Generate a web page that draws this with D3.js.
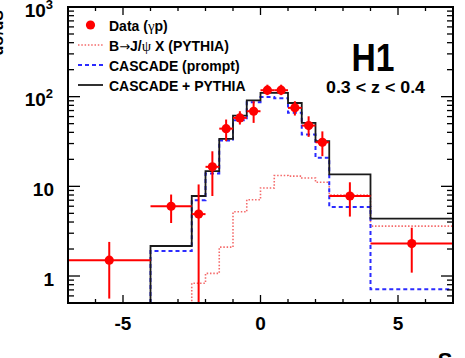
<!DOCTYPE html>
<html><head><meta charset="utf-8">
<script src="https://cdn.jsdelivr.net/npm/d3@7"></script>
<style>
html,body{margin:0;padding:0;background:#fff;}
svg{display:block;font-family:"Liberation Sans",Arial,sans-serif;font-weight:bold;}
</style></head>
<body><svg id="c" width="465" height="358"></svg>
<script>
// ---- data ----
const binEdges = [-4,-2.5,-2,-1.5,-1,-0.5,0,0.5,1,1.5,2,2.5,4,7];
const cascadePythia = [2.16,7.8,14.8,33.9,61.6,91,110,110,85,51,31.9,13.6,4.36];
const cascadePrompt = [1.9,7.0,13.9,32.4,54.6,86.6,99,96,66,37.8,20.8,5.9,0.71];
const pythiaB = [0.3,0.83,1.07,2.1,5.2,7.1,9.6,13.2,13.0,12.4,11.1,8.0,3.6];
const dataX   = [-5.5,-3.25,-2.25,-1.75,-1.25,-0.75,-0.25,0.25,0.75,1.25,1.75,2.25,3.25,5.5];
const dataXerr= [1.5,0.75,0.25,0.25,0.25,0.25,0.25,0.25,0.25,0.25,0.25,0.25,0.75,1.5];
const dataY   = [1.5,6.0,4.9,16.5,44,58,68.8,118,118,75,47.6,31,7.8,2.3];
const dataYhi = [2.4,8.1,10.5,24.6,55.6,68.8,89,136,136,89,60.4,41,11.1,3.46];
const dataYlo = [0.56,3.9,0.3,7.8,31.9,48.9,51,104,104,61.6,35.6,21.7,4.6,1.09];
const xMajor = [-5,0,5];
const xTickLabels = ["-5","0","5"];
const yMajor = [1,10,100,1000];
const yTickLabels = [["1",""],["10",""],["10","2"],["10","3"]];
// legend labels split into [text, font-kind] pieces
const legendLabels = [
  [["Data (",0],["γ",1],["p)",0]],
  [["B",0],["→",2],["J/",0],["ψ",1],[" X (PYTHIA)",0]],
  [["CASCADE (prompt)",0]],
  [["CASCADE + PYTHIA",0]]
];

// ---- layout ----
const L=68,R=453,T=7,B=303;
const svg=d3.select("#c");
const x=d3.scaleLinear().domain([-7,7]).range([L,R]);
const y=d3.scaleLog().domain([0.5,1000]).range([B,T]).clamp(true);

svg.append("defs").append("clipPath").attr("id","clip")
  .append("rect").attr("x",L).attr("y",T).attr("width",R-L).attr("height",B-T);
const g=svg.append("g").attr("clip-path","url(#clip)");

function stepPath(vals){
  const p=d3.path();
  p.moveTo(x(binEdges[0]),B);
  vals.forEach((v,i)=>{p.lineTo(x(binEdges[i]),y(v));p.lineTo(x(binEdges[i+1]),y(v));});
  p.lineTo(x(binEdges[binEdges.length-1]),B);
  return p.toString();
}
g.append("path").attr("d",stepPath(pythiaB)).attr("fill","none")
  .attr("stroke","#f46a6a").attr("stroke-width",1.6).attr("stroke-dasharray","1.5,1.8");
g.append("path").attr("d",stepPath(cascadePrompt)).attr("fill","none")
  .attr("stroke","#2b2bff").attr("stroke-width",2).attr("stroke-dasharray","4,3");
g.append("path").attr("d",stepPath(cascadePythia)).attr("fill","none")
  .attr("stroke","#1a1a1a").attr("stroke-width",1.8);

// data
const dg=g.append("g").attr("stroke","#ff0000").attr("stroke-width",2);
dataX.forEach((xv,i)=>{
  dg.append("line").attr("x1",x(xv-dataXerr[i])).attr("x2",x(xv+dataXerr[i]))
    .attr("y1",y(dataY[i])).attr("y2",y(dataY[i]));
  dg.append("line").attr("x1",x(xv)).attr("x2",x(xv))
    .attr("y1",y(dataYhi[i])).attr("y2",y(dataYlo[i]));
});
g.selectAll("circle.d").data(dataX).enter().append("circle")
  .attr("cx",d=>x(d)).attr("cy",(d,i)=>y(dataY[i])).attr("r",4.6).attr("fill","#ff0000");

// frame & ticks
const ax=svg.append("g").attr("stroke","#000");
ax.append("rect").attr("x",L).attr("y",T).attr("width",R-L).attr("height",B-T)
  .attr("fill","none").attr("stroke-width",2);
for(let v=-7; v<=7; v++){
  const len = (v%5===0)?8:4;
  ax.append("line").attr("x1",x(v)).attr("x2",x(v)).attr("y1",B).attr("y2",B-len).attr("stroke-width",1.3);
  ax.append("line").attr("x1",x(v)).attr("x2",x(v)).attr("y1",T).attr("y2",T+len).attr("stroke-width",1.3);
}
const yTicks=[];
[0.1,1,10,100].forEach(dec=>{for(let k=1;k<10;k++){const v=dec*k; if(v>=0.5&&v<=1000) yTicks.push(v);}});
yTicks.push(1000);
yTicks.forEach(v=>{
  const major = yMajor.includes(v);
  const len = major?12:6;
  ax.append("line").attr("x1",L).attr("x2",L+len).attr("y1",y(v)).attr("y2",y(v)).attr("stroke-width",1.3);
  ax.append("line").attr("x1",R).attr("x2",R-len).attr("y1",y(v)).attr("y2",y(v)).attr("stroke-width",1.3);
});

// tick labels
xMajor.forEach((v,i)=>{
  svg.append("text").attr("x",x(v)).attr("y",330).attr("text-anchor","middle")
    .attr("font-size",19).text(xTickLabels[i]);
});
yMajor.forEach((v,i)=>{
  const t=svg.append("text").attr("x",yTickLabels[i][1]?53:54).attr("y",y(v)+9.5)
    .attr("text-anchor","end").attr("font-size",19);
  t.append("tspan").text(yTickLabels[i][0]);
  if(yTickLabels[i][1]) t.append("tspan").attr("dy",-8).attr("font-size",13).text(yTickLabels[i][1]);
});

// axis titles (cut off at the picture edges, as in the reference)
svg.append("text").attr("transform","translate(3,10) rotate(-90)").attr("text-anchor","end")
  .attr("font-size",16).text("dσ/dS");
svg.append("text").attr("x",445).attr("y",367.5).attr("text-anchor","middle")
  .attr("font-size",22).text("S");

// legend
const lg=svg.append("g");
lg.append("circle").attr("cx",90.5).attr("cy",25).attr("r",4.6).attr("fill","#ff0000");
const lstyles=[null,
  {s:"#f46a6a",d:"1.5,1.8",w:1.6},
  {s:"#2b2bff",d:"4,3",w:2},
  {s:"#1a1a1a",d:null,w:1.8}];
const fonts=["Liberation Sans, Arial, sans-serif","Liberation Serif, serif","DejaVu Sans, sans-serif"];
legendLabels.forEach((parts,i)=>{
  const by=30.5+i*20;
  const t=lg.append("text").attr("x",109).attr("y",by).attr("font-size",14);
  parts.forEach(([s,f])=>{
    const ts=t.append("tspan").attr("font-family",fonts[f]).text(s);
    if(f===1) ts.attr("font-weight","normal").attr("font-size",15);
    if(f===2) ts.attr("font-weight","normal").attr("font-size",13);
  });
  if(lstyles[i]){
    lg.append("line").attr("x1",78).attr("x2",103).attr("y1",by-5.5).attr("y2",by-5.5)
      .attr("stroke",lstyles[i].s).attr("stroke-width",lstyles[i].w)
      .attr("stroke-dasharray",lstyles[i].d);
  }
});

// H1 labels
svg.append("text").attr("x",373).attr("y",70.5).attr("text-anchor","middle")
  .attr("font-size",38).attr("textLength",43).attr("lengthAdjust","spacingAndGlyphs").text("H1");
svg.append("text").attr("x",375.5).attr("y",93).attr("text-anchor","middle")
  .attr("font-size",16).attr("textLength",99).attr("lengthAdjust","spacingAndGlyphs").text("0.3 < z < 0.4");
</script></body></html>
